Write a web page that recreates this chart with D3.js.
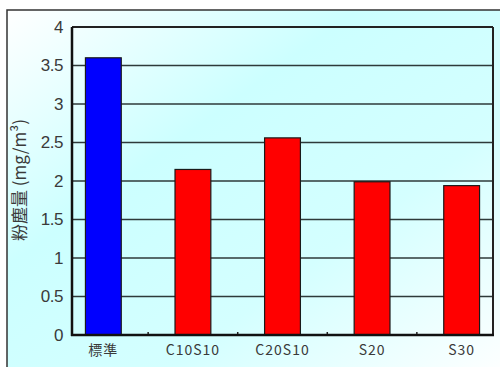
<!DOCTYPE html>
<html>
<head>
<meta charset="utf-8">
<script src="https://cdn.jsdelivr.net/npm/d3@7"></script>
<style>
  body { margin: 0; background: #fff; }
  svg { display: block; }
</style>
</head>
<body>
<div id="chart"></div>
<script>
'use strict';

// data
var categories = ['標準', 'C10S10', 'C20S10', 'S20', 'S30'];
var values     = [3.6, 2.15, 2.56, 1.99, 1.94];
var barColors  = ['#0000ff', '#ff0000', '#ff0000', '#ff0000', '#ff0000'];
var yTicks     = [0, 0.5, 1, 1.5, 2, 2.5, 3, 3.5, 4];
var yTitle     = '粉塵量 (mg/m³)';

var width = 500, height = 367;
var plot = { left: 72, top: 27, right: 493, bottom: 335 };

var svg = d3.select('#chart').append('svg')
            .attr('width', width)
            .attr('height', height);

// diagonal pale gradient behind everything
var grad = svg.append('defs').append('linearGradient')
              .attr('id', 'bg')
              .attr('x1', '0%').attr('y1', '0%')
              .attr('x2', '100%').attr('y2', '100%');
grad.append('stop').attr('offset', '0%').attr('stop-color', '#ffffff');
grad.append('stop').attr('offset', '35%').attr('stop-color', '#ccffff');
grad.append('stop').attr('offset', '65%').attr('stop-color', '#d4ffff');
grad.append('stop').attr('offset', '100%').attr('stop-color', '#ffffff');

svg.append('rect')
   .attr('x', 7).attr('y', 10)
   .attr('width', width).attr('height', height)
   .style('fill', 'url(#bg)')
   .style('stroke', '#333')
   .style('stroke-width', 1.5);

var x = d3.scaleBand()
          .domain(categories)
          .range([plot.left, plot.right])
          .paddingInner(0.6)
          .paddingOuter(0.15);

var y = d3.scaleLinear()
          .domain([0, 4])
          .range([plot.bottom, plot.top]);

// grid lines
svg.append('g')
   .selectAll('line')
   .data(yTicks.slice(1))
   .enter().append('line')
   .attr('x1', plot.left).attr('x2', plot.right)
   .attr('y1', function(d) { return y(d); })
   .attr('y2', function(d) { return y(d); })
   .style('stroke', '#2e3a3a')
   .style('stroke-width', 1.6);

// plot frame: right side
svg.append('line')
   .attr('x1', plot.right).attr('x2', plot.right)
   .attr('y1', plot.top).attr('y2', plot.bottom)
   .style('stroke', '#222')
   .style('stroke-width', 2);

// bars
svg.append('g')
   .selectAll('rect')
   .data(values)
   .enter().append('rect')
   .attr('x', function(d, i) { return x(categories[i]); })
   .attr('y', function(d) { return y(d); })
   .attr('width', x.bandwidth())
   .attr('height', function(d) { return y(0) - y(d); })
   .style('fill', function(d, i) { return barColors[i]; })
   .style('stroke', '#1a1a1a')
   .style('stroke-width', 1.2);

// y axis, labels only (no outer ticks)
var yAxis = svg.append('g')
   .attr('transform', 'translate(' + plot.left + ',0)')
   .call(d3.axisLeft(y).tickValues(yTicks).tickSize(0).tickPadding(9)
           .tickFormat(d3.format('')));
yAxis.select('.domain').remove();
yAxis.selectAll('text')
     .style('font-family', '"Liberation Sans", Arial, sans-serif')
     .style('font-size', '17px')
     .style('letter-spacing', '-0.5px')
     .style('fill', '#3a3a3a');

// x axis: small inward ticks between categories
var step = x.step();
var between = categories.slice(1).map(function(c) {
  return x(c) - (step - x.bandwidth()) / 2;
});
svg.append('g')
   .selectAll('line')
   .data(between)
   .enter().append('line')
   .attr('x1', function(d) { return d; })
   .attr('x2', function(d) { return d; })
   .attr('y1', plot.bottom).attr('y2', plot.bottom - 3)
   .style('stroke', '#222')
   .style('stroke-width', 1.5);

var xAxis = svg.append('g')
   .attr('transform', 'translate(0,' + plot.bottom + ')')
   .call(d3.axisBottom(x).tickSize(0).tickPadding(10));
xAxis.select('.domain').remove();
xAxis.selectAll('text')
     .style('font-family', '"Noto Sans CJK JP", sans-serif')
     .style('font-size', '14px')
     .style('letter-spacing', '1px')
     .style('fill', '#3a3a3a');

// axis lines
svg.append('line')
   .attr('x1', plot.left).attr('x2', plot.right)
   .attr('y1', plot.top).attr('y2', plot.top)
   .style('stroke', '#222').style('stroke-width', 2);
svg.append('line')
   .attr('x1', plot.left).attr('x2', plot.left)
   .attr('y1', plot.top).attr('y2', plot.bottom + 1)
   .style('stroke', '#111').style('stroke-width', 2.5);
svg.append('line')
   .attr('x1', plot.left - 1).attr('x2', plot.right + 1)
   .attr('y1', plot.bottom).attr('y2', plot.bottom)
   .style('stroke', '#111').style('stroke-width', 2.5);

// y title
svg.append('text')
   .attr('transform', 'translate(20,180) rotate(-90)')
   .attr('text-anchor', 'middle')
   .attr('dy', '0.35em')
   .style('font-family', '"Noto Sans CJK JP", sans-serif')
   .style('font-size', '17px')
   .style('fill', '#3a3a3a')
   .text(yTitle);
</script>
</body>
</html>
